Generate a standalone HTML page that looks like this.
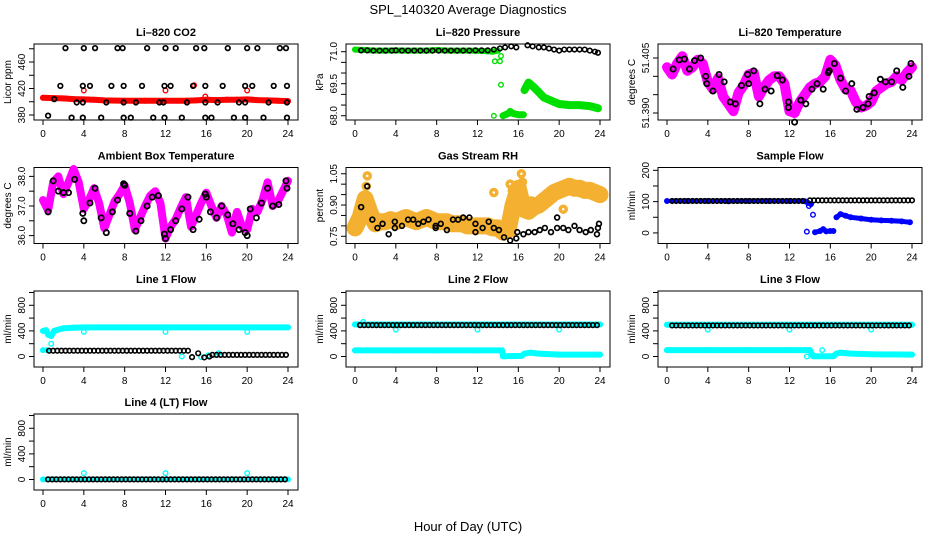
<!DOCTYPE html>
<html><head><meta charset="utf-8">
<style>
html,body{margin:0;padding:0;background:#fff;}
svg{display:block;font-family:"Liberation Sans",Arial,sans-serif;}
</style></head>
<body>
<svg id="chart" width="936" height="540" viewBox="0 0 936 540" xmlns="http://www.w3.org/2000/svg">
<rect x="0" y="0" width="936" height="540" fill="#fff"/>
<text x="468" y="14" text-anchor="middle" font-size="13">SPL_140320  Average Diagnostics</text>
<text x="468" y="531" text-anchor="middle" font-size="13">Hour of Day (UTC)</text>
</svg>
<script>
// ---------- data ----------
const xTicks = [0,4,8,12,16,20,24];
const halfHours = [0,0.5,1,1.5,2,2.5,3,3.5,4,4.5,5,5.5,6,6.5,7,7.5,8,8.5,9,9.5,10,10.5,11,11.5,12,12.5,13,13.5,14,14.5,15,15.5,16,16.5,17,17.5,18,18.5,19,19.5,20,20.5,21,21.5,22,22.5,23,23.5,24];

// CO2
const co2RedHours = [0,1,2,3,4,5,6,8,10,12,14,15,16,17,18,19,20,21,22,23,24];
const co2RedVals  = [406,405.5,405,404,403.5,403,402,401.5,401.5,401.5,401.5,402,403,402.5,403,403,403.5,402.5,402,401.5,401];
const co2RedOutHours = [4,12,14.8,15.9,20];
const co2RedOutVals  = [417,417,425,408,417];
const co2BlackHours = [2.2,4,5.1,7.3,7.8,10.2,12,13,15,15.8,18.1,20,21,23.2,23.8, 1.7,3.9,4.6,6.7,7.9,9.7,11.9,12.5,14.7,15.9,17.6,19.8,20.5,22.6,23.9, 1.1,3.3,3.9,6.2,7.9,9.1,11.4,11.8,14.1,15.9,17.1,19.2,19.8,22.1,23.9, 0.5,2.8,3.9,5.7,7.9,8.6,10.8,11.9,13.6,15.9,16.5,18.7,19.8,21.6,23.9];
const co2BlackVals  = [481,481,481,481,481,481,481,481,481,481,481,481,481,481,481, 424,424,424,424,424,424,424,424,424,424,424,424,424,424,424, 404,399,399,399,399,399,399,399,399,399,399,399,399,399,399, 379,376,376,376,376,376,376,376,376,376,376,376,376,376,376];

// Pressure
const presGreenHours = [0,1,2,3,4,5,6,7,8,9,10,11,12,13,13.5,14];
const presGreenVals  = [71.1,71.08,71.05,71.05,71.06,71.05,71.05,71.05,71.08,71.05,71.05,71.05,71.04,71.02,71.0,71.05];
const presGreenLowHours = [14.5,15,15.2,15.5,16,16.5];
const presGreenLowVals  = [68.0,68.1,68.2,68.1,68.05,68.05];
const presGreenTailHours = [16.6,17,17.5,18,18.5,19,19.5,20,21,22,23,23.8];
const presGreenTailVals  = [69.2,69.55,69.35,69.1,68.85,68.75,68.65,68.55,68.5,68.5,68.45,68.35];
const presGreenOutHours = [13.7,14.2,14.3,13.6,14.3];
const presGreenOutVals  = [70.55,70.55,69.45,68.0,70.8];
const presBlackHours = [0.6,1.2,1.8,2.4,3,3.6,4,4.6,5.2,5.8,6.4,7,7.6,8.2,8.8,9.4,10,10.6,11.2,11.8,12.4,13,13.6,14.2,14.7,15.3,15.8,16.9,17.4,18,18.5,19,19.5,20,20.5,21,21.5,22,22.5,23,23.5,23.8];
const presBlackVals  = [71.06,71.06,71.05,71.05,71.05,71.05,71.06,71.05,71.05,71.05,71.05,71.05,71.05,71.05,71.05,71.05,71.05,71.05,71.05,71.06,71.06,71.06,71.1,71.15,71.2,71.25,71.2,71.3,71.25,71.2,71.2,71.15,71.1,71.05,71.1,71.1,71.1,71.1,71.1,71.05,71.0,70.95];

// Li-820 temperature
const tempMagVals = [51.4025,51.4005,51.4035,51.4055,51.4015,51.4025,51.4045,51.4035,51.3985,51.3965,51.3995,51.3945,51.3925,51.3905,51.3955,51.3975,51.4005,51.4010,51.3945,51.3970,51.3990,51.4000,51.4000,51.3980,51.3905,51.3900,51.3930,51.3950,51.3970,51.3980,51.3985,51.4000,51.4045,51.4030,51.3990,51.3965,51.3960,51.3930,51.3915,51.3920,51.3930,51.3960,51.3970,51.3980,51.3985,51.4000,51.3990,51.4010,51.4025];
const tempBlackHours = [0.6,1.2,1.7,2.2,2.7,3.3,3.8,3.9,4.5,5.1,5.6,6.2,6.7,7.3,7.9,8,8.5,9.1,9.6,10.2,10.8,11.3,11.9,11.9,12.5,13.1,13.6,14.2,14.7,15.3,15.8,15.9,16.4,17,17.5,18.1,18.6,19.2,19.7,19.8,20.3,20.9,21.4,22,22.5,23.1,23.7,23.9];
const tempBlackVals  = [51.4020,51.4045,51.4047,51.4020,51.4043,51.4050,51.4000,51.3980,51.3960,51.4005,51.3985,51.3930,51.3925,51.3975,51.4005,51.3980,51.4015,51.3925,51.3965,51.3960,51.4002,51.3990,51.3930,51.3915,51.3875,51.3935,51.3925,51.3965,51.3980,51.3965,51.4010,51.4015,51.4035,51.3995,51.3960,51.3980,51.3910,51.3915,51.3925,51.3945,51.3955,51.3992,51.3985,51.3985,51.4015,51.3970,51.4000,51.4035];

// Ambient box temperature
const ambMagVals = [37.2,36.85,37.8,38.0,37.4,37.8,38.25,37.8,36.9,37.2,37.6,37.1,36.25,36.7,37.15,37.4,37.7,37.1,36.2,36.6,37.0,37.35,37.5,37.1,35.9,36.3,36.55,36.95,37.3,36.3,36.7,37.1,37.45,37.0,36.6,37.0,36.7,36.1,36.8,36.3,36.2,36.9,36.8,37.2,37.8,37.0,37.15,37.5,37.85];
const ambBlackHours = [0.5,1,1.5,2,2.5,3.1,3.9,4,4.6,5.1,5.7,6.2,6.8,7.3,7.9,8,8.5,9.1,9.6,10.2,10.7,11.3,11.9,12,12.5,13,13.6,14.2,14.7,15.3,15.9,16,16.4,17,17.5,18.1,18.6,19.2,19.8,20,20.3,20.9,21.4,22,22.5,23.1,23.8,23.9];
const ambBlackVals  = [36.8,37.85,37.5,37.45,37.45,37.9,36.75,36.5,37.1,37.6,36.6,36.1,36.8,37.2,37.75,37.7,36.75,36.15,36.5,37.0,37.3,37.35,36.05,35.9,36.2,36.5,36.9,37.3,36.2,36.55,37.4,37.3,36.8,36.6,37.0,36.7,36.4,36.2,36.1,36.0,36.9,36.6,37.1,37.6,37.0,37.05,37.85,37.6];

// Gas stream RH
const rhOrangeVals = [0.79,0.84,0.93,0.86,0.81,0.82,0.82,0.83,0.82,0.83,0.84,0.83,0.82,0.83,0.84,0.83,0.82,0.82,0.82,0.81,0.81,0.81,0.80,0.80,0.80,0.80,0.80,0.79,0.79,0.77,0.78,0.90,0.98,0.88,0.87,0.89,0.90,0.92,0.94,0.96,0.97,0.98,0.99,0.98,0.98,0.97,0.97,0.96,0.95];
const rhOrangeOutHours = [1.2,1.1,13.6,15.2,15.4,16.3,16.4,16.9,17.3,20.4];
const rhOrangeOutVals  = [1.04,0.99,0.96,1.0,0.97,1.05,1.01,0.92,0.92,0.88];
const rhBlackHours = [0.6,1.2,1.7,2.2,2.7,3.3,3.9,3.9,4.6,5.2,5.7,6.2,6.7,7.2,7.9,7.9,8.4,9.0,9.6,10.1,10.6,11.2,11.8,11.8,12.5,13.1,13.6,14.1,14.6,15.2,15.8,15.9,16.5,17.0,17.6,18.1,18.6,19.2,19.8,19.8,20.4,20.9,21.5,22.0,22.6,23.1,23.7,23.8,23.9];
const rhBlackVals  = [0.89,0.99,0.83,0.79,0.81,0.76,0.82,0.79,0.80,0.83,0.83,0.81,0.82,0.83,0.80,0.79,0.81,0.78,0.83,0.83,0.84,0.84,0.81,0.77,0.79,0.82,0.79,0.78,0.745,0.73,0.74,0.77,0.76,0.77,0.77,0.78,0.79,0.77,0.79,0.84,0.79,0.78,0.80,0.78,0.77,0.78,0.76,0.79,0.81];

// Sample flow
const sfBlueHours = [0,2,4,6,8,10,12,13.5,13.8,14.1];
const sfBlueVals  = [102,102,102,101,102,102,102,101,96,92];
const sfBlueLowHours = [14.5,15,15.3,15.6,16,16.3];
const sfBlueLowVals  = [2,6,12,5,6,6];
const sfBlueTailHours = [16.6,17,17.5,18,19,20,21,22,23,23.8];
const sfBlueTailVals  = [50,60,55,50,46,42,40,39,37,34];
const sfBlueOutHours = [13.7,14.3,13.9];
const sfBlueOutVals  = [4,58,86];
const sfBlackRuns = [[0.5,13.6,102],[14,24,104]];

// Line flows
const l1CyanHighHours = [0,0.3,0.5,0.8,1.1,1.5,2,3,4,8,12,16,20,24];
const l1CyanHighVals  = [400,410,340,320,400,420,440,450,455,455,455,455,455,455];
const l1CyanLowHours = [0,0.4];
const l1CyanLowVals  = [100,100];
const l1CyanOutHours = [4,12,20,0.8,13.6,14.6,15.5,16.2,17.2];
const l1CyanOutVals  = [385,385,385,200,0,-10,-10,20,50];
const l1BlackRuns = [[0.6,14.2,90],[16.6,24,25]];
const l1BlackExtraHours = [14.6,15.2,15.8,16.3];
const l1BlackExtraVals  = [-10,50,-15,0];

const l2CyanHighHours = [0,24];
const l2CyanHighVals  = [500,500];
const l2CyanLowHours = [0,4,8,12,14.4,14.5,16.3,16.6,17.2,18,20,24];
const l2CyanLowVals  = [95,95,95,95,95,5,10,45,60,45,30,30];
const l2CyanOutHours = [4,12,20,0.8];
const l2CyanOutVals  = [420,420,420,540];
const l2BlackRuns = [[0.5,24,490]];

const l3CyanHighHours = [0,24];
const l3CyanHighVals  = [495,495];
const l3CyanLowHours = [0,4,8,12,14,14.3,16.3,16.6,17,18,20,24];
const l3CyanLowVals  = [100,100,100,100,100,5,5,45,60,45,35,30];
const l3CyanOutHours = [4,12,20,13.7,15.2];
const l3CyanOutVals  = [420,420,420,0,100];
const l3BlackRuns = [[0.5,24,485]];

const l4CyanLowHours = [0,24];
const l4CyanLowVals  = [2,2];
const l4CyanOutHours = [4,12,20];
const l4CyanOutVals  = [100,100,100];
const l4BlackRuns = [[0.5,24,2]];

// ---------- drawing ----------
const NS = 'http://www.w3.org/2000/svg';
const svg = document.getElementById('chart');
function mk(tag, attrs, parent){
  const e = document.createElementNS(NS, tag);
  for (const k in attrs) e.setAttribute(k, attrs[k]);
  (parent||svg).appendChild(e);
  return e;
}
const colLeft = [34,346,658], rowTop = [44,167.5,291,414], PW = 264, PH = 76;

function panel(c, r, title, ylab, ymin, ymax, ticks, labels, fmt, name){
  const L = colLeft[c], T = rowTop[r];
  const g = mk('g', {});
  
  
  const p = {
    g: g,
    x: h => L + 9 + h * (245/24),
    y: v => T + PH - (v - ymin) / (ymax - ymin) * PH
  };
  const t = mk('text', {x: L + PW/2, y: T - 8, 'text-anchor':'middle', 'font-size':'11', 'font-weight':'bold'}, g);
  t.textContent = title;
  
  
  const box = mk('rect', {x:L, y:T, width:PW, height:PH, fill:'none', stroke:'#000', 'stroke-width':'1'}, g);
  
  
  const xa = mk('g', {}, g);
  
  
  xTicks.forEach(h => {
    mk('line', {x1:p.x(h), x2:p.x(h), y1:T+PH, y2:T+PH+5, stroke:'#000'}, xa);
    const tl = mk('text', {x:p.x(h), y:T+PH+17, 'text-anchor':'middle', 'font-size':'10'}, xa);
    tl.textContent = h;
  });
  const ya = mk('g', {}, g);
  
  
  ticks.forEach(v => {
    mk('line', {x1:L-5, x2:L, y1:p.y(v), y2:p.y(v), stroke:'#000'}, ya);
  });
  labels.forEach(v => {
    const yy = p.y(v);
    const tl = mk('text', {x:L-9, y:yy, 'text-anchor':'middle', 'font-size':'10', transform:`rotate(-90 ${L-9} ${yy})`}, ya);
    tl.textContent = fmt(v);
  });
  const yt = mk('text', {x:L-23, y:T+PH/2, 'text-anchor':'middle', 'font-size':'10', transform:`rotate(-90 ${L-23} ${T+PH/2})`}, g);
  yt.textContent = ylab;
  
  
  return p;
}
function pts(p, hs, vs, color, name, r, sw){
  const g = mk('g', {}, p.g);
  
  
  hs.forEach((h,i) => {
    mk('circle', {cx:p.x(h), cy:p.y(vs[i]), r:r||2.3, fill:'none', stroke:color, 'stroke-width':sw||1.4}, g);
  });
}
function band(p, hs, vs, color, name, w){
  const g = mk('g', {}, p.g);
  
  
  const d = hs.map((h,i) => (i?'L':'M') + p.x(h).toFixed(1) + ' ' + p.y(vs[i]).toFixed(1)).join(' ');
  mk('path', {d:d, fill:'none', stroke:color, 'stroke-width':w, 'stroke-linejoin':'round', 'stroke-linecap':'round'}, g);
  hs.forEach((h,i) => {
    mk('circle', {cx:p.x(h), cy:p.y(vs[i]), r:2.3, fill:'none', stroke:color, 'stroke-width':1.4}, g);
  });
}
function runs(p, rs, color, name){
  const g = mk('g', {}, p.g);
  
  
  rs.forEach(rn => {
    for (let h = rn[0]; h <= rn[1] + 1e-6; h += 0.4) {
      mk('circle', {cx:p.x(h), cy:p.y(rn[2]), r:2.3, fill:'none', stroke:color, 'stroke-width':1.6}, g);
    }
  });
}
const f0 = v => String(v), f1 = v => v.toFixed(1), f2 = v => v.toFixed(2), f3 = v => v.toFixed(3);

// CO2
let p = panel(0,0,'Li\u2013820 CO2','Licor ppm',372.45,487.2,[380,400,420,440,460,480],[380,420,460],f0,'co2-panel');
band(p, co2RedHours, co2RedVals, '#ff0000', 'co2-red-series', 6);
pts(p, co2RedOutHours, co2RedOutVals, '#ff0000', 'co2-red-outliers');
pts(p, co2BlackHours, co2BlackVals, '#000', 'co2-black-series', 2.3, 1.7);

// Pressure
p = panel(1,0,'Li\u2013820 Pressure','kPa',67.80,71.36,[68,68.5,69,69.5,70,70.5,71],[68,69.5,71],f1,'pressure-panel');
band(p, presGreenHours, presGreenVals, '#00e000', 'pressure-green-series', 6);
band(p, presGreenLowHours, presGreenLowVals, '#00e000', 'pressure-green-low', 7);
band(p, presGreenTailHours, presGreenTailVals, '#00e000', 'pressure-green-tail', 8);
pts(p, presGreenOutHours, presGreenOutVals, '#00e000', 'pressure-green-outliers');
pts(p, presBlackHours, presBlackVals, '#000', 'pressure-black-series', 2.3, 1.6);

// Li-820 temperature
p = panel(2,0,'Li\u2013820 Temperature','degrees C',51.38809,51.40882,[51.390,51.395,51.400,51.405],[51.390,51.405],f3,'li820-temp-panel');
band(p, halfHours, tempMagVals, '#ff00ff', 'li820-temp-magenta', 10);
pts(p, tempBlackHours, tempBlackVals, '#000', 'li820-temp-black', 2.6, 1.8);

// Ambient
p = panel(0,1,'Ambient Box Temperature','degrees C',35.733,38.3,[36,36.5,37,37.5,38],[36,37,38],f1,'ambient-temp-panel');
band(p, halfHours, ambMagVals, '#ff00ff', 'ambient-temp-magenta', 8);
pts(p, ambBlackHours, ambBlackVals, '#000', 'ambient-temp-black', 2.6, 1.8);

// RH
p = panel(1,1,'Gas Stream RH','percent',0.7154,1.080,[0.75,0.80,0.85,0.90,0.95,1.00,1.05],[0.75,0.90,1.05],f2,'rh-panel');
band(p, halfHours, rhOrangeVals, '#f4b030', 'rh-orange-series', 17);
pts(p, rhOrangeOutHours, rhOrangeOutVals, '#f4b030', 'rh-orange-outliers', 3, 3.5);
pts(p, rhBlackHours, rhBlackVals, '#000', 'rh-black-series', 2.4, 1.7);

// Sample flow
p = panel(2,1,'Sample Flow','ml/min',-33.8,209,[0,50,100,150,200],[0,100,200],f0,'sample-flow-panel');
band(p, sfBlueHours, sfBlueVals, '#0000ff', 'sample-flow-blue', 4);
band(p, sfBlueLowHours, sfBlueLowVals, '#0000ff', 'sample-flow-blue-low', 5);
band(p, sfBlueTailHours, sfBlueTailVals, '#0000ff', 'sample-flow-blue-tail', 5);
pts(p, sfBlueOutHours, sfBlueOutVals, '#0000ff', 'sample-flow-blue-outliers');
runs(p, sfBlackRuns, '#000', 'sample-flow-black');

const flowTicks = [0,200,400,600,800,1000], flowLabels = [0,400,800];
// Line 1
p = panel(0,2,'Line 1 Flow','ml/min',-164,1023,flowTicks,flowLabels,f0,'line1-flow-panel');
band(p, l1CyanHighHours, l1CyanHighVals, '#00ffff', 'line1-cyan-high', 6);
band(p, l1CyanLowHours, l1CyanLowVals, '#00ffff', 'line1-cyan-low', 4);
pts(p, l1CyanOutHours, l1CyanOutVals, '#00ffff', 'line1-cyan-outliers');
runs(p, l1BlackRuns, '#000', 'line1-black');
pts(p, l1BlackExtraHours, l1BlackExtraVals, '#000', 'line1-black-extra', 2.3, 1.6);

// Line 2
p = panel(1,2,'Line 2 Flow','ml/min',-164,1023,flowTicks,flowLabels,f0,'line2-flow-panel');
band(p, l2CyanHighHours, l2CyanHighVals, '#00ffff', 'line2-cyan-high', 6);
band(p, l2CyanLowHours, l2CyanLowVals, '#00ffff', 'line2-cyan-low', 6);
pts(p, l2CyanOutHours, l2CyanOutVals, '#00ffff', 'line2-cyan-outliers');
runs(p, l2BlackRuns, '#000', 'line2-black');

// Line 3
p = panel(2,2,'Line 3 Flow','ml/min',-164,1023,flowTicks,flowLabels,f0,'line3-flow-panel');
band(p, l3CyanHighHours, l3CyanHighVals, '#00ffff', 'line3-cyan-high', 6);
band(p, l3CyanLowHours, l3CyanLowVals, '#00ffff', 'line3-cyan-low', 6);
pts(p, l3CyanOutHours, l3CyanOutVals, '#00ffff', 'line3-cyan-outliers');
runs(p, l3BlackRuns, '#000', 'line3-black');

// Line 4
p = panel(0,3,'Line 4 (LT) Flow','ml/min',-164,1023,flowTicks,flowLabels,f0,'line4-flow-panel');
band(p, l4CyanLowHours, l4CyanLowVals, '#00ffff', 'line4-cyan', 5);
pts(p, l4CyanOutHours, l4CyanOutVals, '#00ffff', 'line4-cyan-outliers');
runs(p, l4BlackRuns, '#000', 'line4-black');
</script>
</body></html>
